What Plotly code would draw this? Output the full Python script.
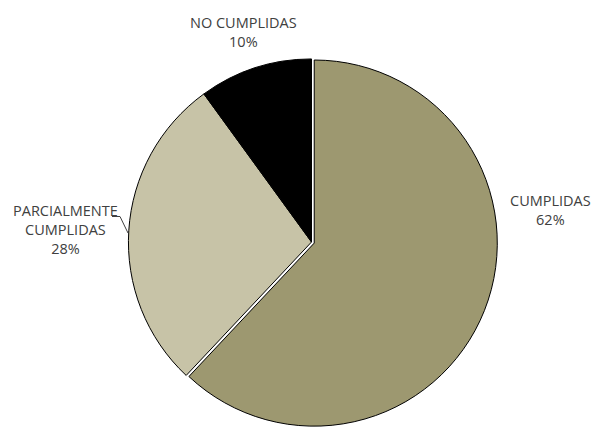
import plotly.graph_objects as go

# Estado de cumplimiento de las acciones
categorias = ["CUMPLIDAS", "PARCIALMENTE CUMPLIDAS", "NO CUMPLIDAS"]
etiquetas = ["CUMPLIDAS", "PARCIALMENTE<br>CUMPLIDAS", "NO CUMPLIDAS"]
porcentajes = [62, 28, 10]
colores = ["#9D9870", "#C7C3A7", "#000000"]
separacion = [0.016, 0, 0]

W, H = 594, 428
FONT = "Open Sans"
TEXT_COLOR = "#404040"

fig = go.Figure(
    go.Pie(
        labels=categorias,
        values=porcentajes,
        sort=False,
        direction="clockwise",
        rotation=0,
        pull=separacion,
        marker=dict(colors=colores, line=dict(color="#000000", width=1)),
        textinfo="none",
        hoverinfo="label+percent",
        showlegend=False,
        domain=dict(x=[(311.5 - 187) / W, (311.5 + 187) / W], y=[0, 1 - 56 / H]),
    )
)

# Posición (px) del centro de cada rótulo
pos_rotulos = [(550, 210), (65, 229), (243, 32)]

def px(x, y):
    return x / W, 1 - y / H

annotations = []
for lab, val, (x, y) in zip(etiquetas, porcentajes, pos_rotulos):
    ax, ay = px(x, y)
    annotations.append(
        dict(
            x=ax, y=ay, xref="paper", yref="paper",
            text=f"{lab}<br>{val}%",
            showarrow=False,
            xanchor="center", yanchor="middle",
            align="center",
            font=dict(family=FONT, size=14.5, color=TEXT_COLOR),
        )
    )

# Línea guía del rótulo izquierdo
p0, p1, p2 = px(112, 216.5), px(120, 216.5), px(128, 233)
shapes = [
    dict(
        type="path", xref="paper", yref="paper",
        path=f"M {p0[0]},{p0[1]} L {p1[0]},{p1[1]} L {p2[0]},{p2[1]}",
        line=dict(color="#404040", width=1),
    )
]

fig.update_layout(
    width=W, height=H,
    margin=dict(l=0, r=0, t=0, b=0),
    paper_bgcolor="#FFFFFF",
    plot_bgcolor="#FFFFFF",
    annotations=annotations,
    shapes=shapes,
    font=dict(family=FONT, color=TEXT_COLOR),
)

fig.write_html("out.html")
